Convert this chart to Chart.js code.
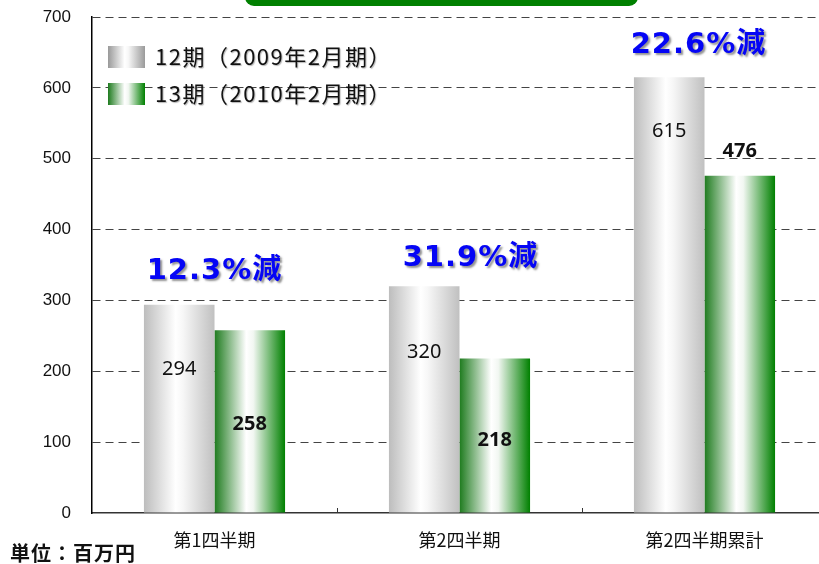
<!DOCTYPE html>
<html>
<head>
<meta charset="utf-8">
<script src="https://cdn.jsdelivr.net/npm/chart.js@4"></script>
<style>
  html, body { margin: 0; padding: 0; background: #fff; overflow: hidden; width: 819px; height: 564px; }
  #wrap { position: absolute; left: 0; top: 0; width: 827px; height: 564px; }
</style>
</head>
<body>
<div id="wrap"><canvas id="c" width="827" height="564"></canvas></div>
<script>
// ---- data ----
const categories = ['第1四半期', '第2四半期', '第2四半期累計'];
const seriesLabels = ['12期（2009年2月期）', '13期（2010年2月期）'];
const series12 = [294, 320, 615];
const series13 = [258, 218, 476];
const reductionLabels = ['12.3%減', '31.9%減', '22.6%減'];
const yTickValues = [0, 100, 200, 300, 400, 500, 600, 700];
const unitLabel = '単位：百万円';

// ---- styling (label placement in px relative to bar top) ----
const labelOffset12 = [65, 66, 54];
const labelOffset13 = [94, 82, -24];
const reductionOffset = [-33, -28, -32];
const reductionShiftX = [0, 11, -6];

function grayGrad(ctx, x0, x1, dark) {
  const g = ctx.createLinearGradient(x0, 0, x1, 0);
  g.addColorStop(0, dark ? '#999999' : '#bdbdbd');
  g.addColorStop(0.45, '#ffffff');
  g.addColorStop(0.55, '#f7f7f7');
  g.addColorStop(1, dark ? '#9a9a9a' : '#c0c0c0');
  return g;
}
function greenGrad(ctx, x0, x1) {
  const g = ctx.createLinearGradient(x0, 0, x1, 0);
  g.addColorStop(0, '#1e7b1e');
  g.addColorStop(0.45, '#ffffff');
  g.addColorStop(0.55, '#f2f7f2');
  g.addColorStop(1, '#008000');
  return g;
}

const decor = {
  id: 'decor',
  beforeDatasetsDraw(chart) {
    const ctx = chart.ctx;
    chart.data.datasets.forEach((ds, di) => {
      const meta = chart.getDatasetMeta(di);
      meta.data.forEach(bar => {
        const x0 = bar.x - bar.width / 2, x1 = bar.x + bar.width / 2;
        bar.options.backgroundColor = di === 0 ? grayGrad(ctx, x0, x1, false) : greenGrad(ctx, x0, x1);
      });
    });
  },
  afterDraw(chart) {
    const ctx = chart.ctx;
    const ca = chart.chartArea;
    const xs = chart.scales.x;
    ctx.save();
    // title remnant (green rounded box at top)
    ctx.fillStyle = '#008000';
    ctx.beginPath();
    if (ctx.roundRect) ctx.roundRect(245, -20, 393, 26, 9); else ctx.rect(245, -20, 393, 26);
    ctx.fill();

    // x-axis tick marks between categories (pointing up)
    ctx.strokeStyle = '#333';
    ctx.lineWidth = 1;
    for (let i = 1; i < categories.length; i++) {
      const x = Math.round((xs.getPixelForValue(i - 1) + xs.getPixelForValue(i)) / 2) + 0.5;
      ctx.beginPath(); ctx.moveTo(x, ca.bottom - 5); ctx.lineTo(x, ca.bottom); ctx.stroke();
    }

    // data labels
    const m0 = chart.getDatasetMeta(0), m1 = chart.getDatasetMeta(1);
    ctx.textAlign = 'center';
    ctx.textBaseline = 'middle';
    ctx.fillStyle = '#111';
    m0.data.forEach((bar, i) => {
      ctx.font = '20px "Noto Sans"';
      ctx.fillText(String(series12[i]), bar.x, bar.y + labelOffset12[i]);
    });
    m1.data.forEach((bar, i) => {
      ctx.font = 'bold 20px "Noto Sans"';
      ctx.fillText(String(series13[i]), bar.x, bar.y + labelOffset13[i]);
    });

    // reduction annotations
    ctx.font = 'bold 29px "DejaVu Sans", "Noto Sans CJK JP"';
    if ('letterSpacing' in ctx) ctx.letterSpacing = '1px';
    ctx.shadowColor = 'rgba(120,120,120,0.8)';
    ctx.shadowOffsetX = 2; ctx.shadowOffsetY = 2; ctx.shadowBlur = 2;
    ctx.fillStyle = '#0505f5';
    reductionLabels.forEach((t, i) => {
      const cx = xs.getPixelForValue(i) + reductionShiftX[i];
      ctx.fillText(t, cx, m0.data[i].y + reductionOffset[i]);
    });

    // legend inside plot
    const lx = 108, ly = [46, 83];
    if ('letterSpacing' in ctx) ctx.letterSpacing = '1.5px';
    ctx.shadowColor = 'rgba(150,150,150,0.7)';
    ctx.shadowOffsetX = 1; ctx.shadowOffsetY = 1; ctx.shadowBlur = 1;
    seriesLabels.forEach((t, i) => {
      ctx.save();
      ctx.shadowColor = 'rgba(0,0,0,0)';
      ctx.fillStyle = i === 0 ? grayGrad(ctx, lx, lx + 37, true) : greenGrad(ctx, lx, lx + 37);
      ctx.fillRect(lx, ly[i], 37, 22);
      ctx.restore();
      ctx.textAlign = 'left';
      ctx.fillStyle = '#111';
      ctx.font = '22px "Noto Sans CJK JP"';
      ctx.fillText(t, 155, ly[i] + 11);
    });

    // unit label
    if ('letterSpacing' in ctx) ctx.letterSpacing = '1px';
    ctx.shadowColor = 'rgba(0,0,0,0)';
    ctx.textAlign = 'left';
    ctx.fillStyle = '#111';
    ctx.font = 'bold 20px "Noto Sans CJK JP"';
    ctx.fillText(unitLabel, 10, 553);
    ctx.restore();
  }
};

new Chart(document.getElementById('c'), {
  type: 'bar',
  data: {
    labels: categories,
    datasets: [
      { label: seriesLabels[0], data: series12, backgroundColor: () => '#cccccc', borderWidth: 0 },
      { label: seriesLabels[1], data: series13, backgroundColor: () => '#008800', borderWidth: 0 }
    ]
  },
  options: {
    responsive: false,
    animation: false,
    devicePixelRatio: 1,
    layout: { padding: { top: 17, left: 0, right: 0, bottom: 0 } },
    datasets: { bar: { categoryPercentage: 0.576, barPercentage: 1 } },
    plugins: { legend: { display: false }, tooltip: { enabled: false } },
    scales: {
      x: {
        grid: { display: false },
        border: { display: true, color: '#333', width: 1.5 },
        ticks: { font: { family: '"Noto Sans CJK JP"', size: 18 }, color: '#111', padding: 8 },
        afterFit(s) { s.height = 51; s.paddingLeft = 0; s.paddingRight = 0; }
      },
      y: {
        min: 0, max: 700,
        afterBuildTicks(s) { s.ticks = yTickValues.map(v => ({ value: v })); },
        grid: {
          color: c => c.tick && c.tick.value === 0 ? 'rgba(0,0,0,0)' : '#444',
          lineWidth: 1,
          drawTicks: false
        },
        border: { display: true, color: '#000', width: 1.5, dash: [8, 5] },
        ticks: { font: { family: '"Liberation Sans"', size: 17 }, color: '#111', padding: 21 },
        afterFit(s) { s.width = 92; s.paddingTop = 0; s.paddingBottom = 0; }
      }
    }
  },
  plugins: [decor]
});
</script>
</body>
</html>
